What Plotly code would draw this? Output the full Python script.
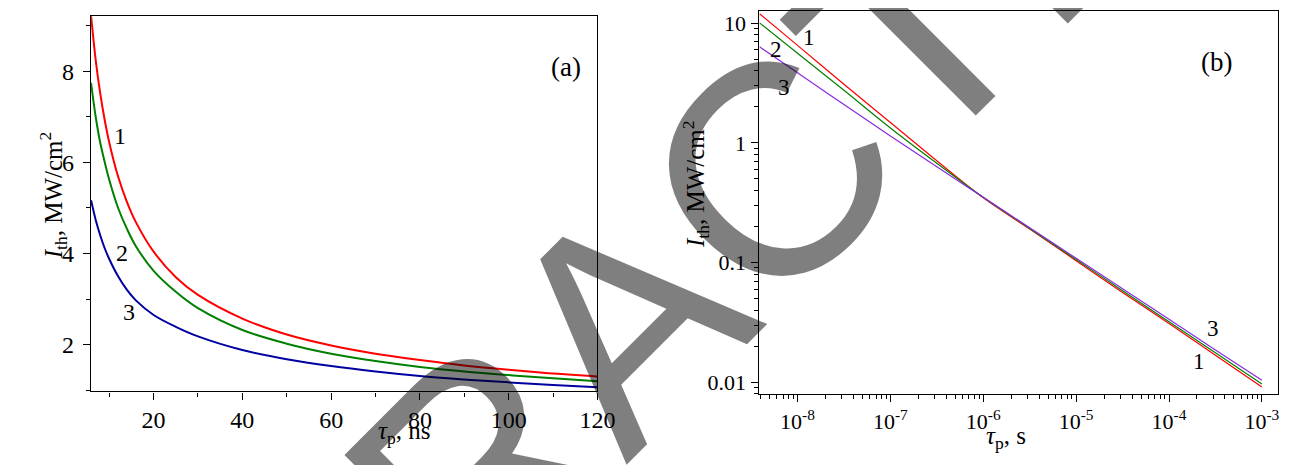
import plotly.graph_objects as go

W, H = 1300, 465

# ---------------- Panel (a) data: tau_p in ns, I_th in MW/cm^2 ----------------
tau_a = [5.9, 7, 8, 9, 10, 12, 14, 16, 20, 25, 30, 40, 50, 60, 70, 80, 90, 100, 110, 120]
I_a_1 = [9.23, 8.21, 7.50, 6.92, 6.44, 5.69, 5.13, 4.69, 4.04, 3.48, 3.09, 2.57, 2.22, 1.98, 1.80, 1.66, 1.54, 1.445, 1.365, 1.30]
I_a_2 = [7.75, 6.97, 6.42, 6.0, 5.62, 5.0, 4.54, 4.16, 3.62, 3.16, 2.8, 2.32, 2.02, 1.80, 1.64, 1.51, 1.41, 1.33, 1.26, 1.195]
I_a_3 = [5.17, 4.72, 4.39, 4.11, 3.88, 3.5, 3.2, 2.97, 2.65, 2.39, 2.18, 1.88, 1.68, 1.53, 1.41, 1.31, 1.235, 1.17, 1.11, 1.06]

# ---------------- Panel (b) data: tau_p in s, I_th in MW/cm^2 ----------------
tau_b = [3.9e-9, 1e-8, 3.16e-8, 1e-7, 3.16e-7, 1e-6, 3.16e-6, 1e-5, 3.16e-5, 1e-4, 3.16e-4, 1e-3]
I_b_1 = [12.0, 6.53, 3.09, 1.48, 0.708, 0.347, 0.1905, 0.1035, 0.0562, 0.0309, 0.0168, 0.00912]
I_b_2 = [10.07, 5.62, 2.754, 1.334, 0.676, 0.351, 0.1928, 0.1059, 0.0582, 0.0320, 0.0176, 0.00966]
I_b_3 = [6.35, 3.85, 2.09, 1.143, 0.631, 0.351, 0.195, 0.1084, 0.0603, 0.0335, 0.0186, 0.01035]

# tick labels
xa_ticks = [20, 40, 60, 80, 100, 120]
ya_ticks = [2, 4, 6, 8]
xb_ticks = [1e-8, 1e-7, 1e-6, 1e-5, 1e-4, 1e-3]
xb_text = ["10<sup>-8</sup>", "10<sup>-7</sup>", "10<sup>-6</sup>", "10<sup>-5</sup>", "10<sup>-4</sup>", "10<sup>-3</sup>"]
yb_ticks = [0.01, 0.1, 1, 10]
yb_text = ["0.01", "0.1", "1", "10"]

SERIF = "Liberation Serif"
SANS = "Liberation Sans"

def pxx(x):
    return x / W

def pyy(y):
    return 1 - y / H

fig = go.Figure()

col_a = ["#ff0000", "#008000", "#0000a0"]
for ys, c in zip([I_a_1, I_a_2, I_a_3], col_a):
    fig.add_trace(go.Scatter(x=tau_a, y=ys, mode="lines", line=dict(color=c, width=2, shape="spline"),
                             xaxis="x", yaxis="y", showlegend=False))

col_b = ["#ff0000", "#008000", "#8a2be2"]
for ys, c in zip([I_b_1, I_b_2, I_b_3], col_b):
    fig.add_trace(go.Scatter(x=tau_b, y=ys, mode="lines", line=dict(color=c, width=1.2, shape="spline"),
                             xaxis="x2", yaxis="y2", showlegend=False))

def axis_common(size):
    return dict(showline=True, linecolor="black", linewidth=1.3, mirror=True, ticks="outside",
                tickcolor="black", tickwidth=1.2, ticklen=7, showgrid=False, zeroline=False,
                tickfont=dict(family=SERIF, size=size, color="black"))

minor_b_vals = [k * 10.0 ** e for e in range(-10, 3) for k in range(2, 10)]

fig.update_layout(
    width=W, height=H,
    margin=dict(l=0, r=0, t=0, b=0),
    paper_bgcolor="white", plot_bgcolor="white",
    font=dict(family=SERIF, color="black"),
    xaxis=dict(domain=[pxx(84.2), pxx(597.7)], range=[5.9, 120], tickvals=xa_ticks,
               minor=dict(dtick=10, tick0=0, ticks="outside", ticklen=4, tickcolor="black"),
               anchor="y", ticklabelstandoff=0, **axis_common(24)),
    yaxis=dict(domain=[pyy(384.3), pyy(8.3)], range=[0.97, 9.21], tickvals=ya_ticks,
               minor=dict(dtick=1, tick0=0, ticks="outside", ticklen=4, tickcolor="black"),
               anchor="x", ticklabelstandoff=4, **axis_common(24)),
    xaxis2=dict(domain=[pxx(762), pxx(1287.5)], type="log", range=[-8.41, -2.83],
                tickvals=xb_ticks, ticktext=xb_text,
                minor=dict(tickvals=minor_b_vals, ticks="outside", ticklen=4, tickcolor="black"),
                anchor="y2", ticklabelstandoff=1, **axis_common(22)),
    yaxis2=dict(domain=[pyy(386.7), pyy(2.7)], type="log", range=[-2.098, 1.105],
                tickvals=yb_ticks, ticktext=yb_text,
                minor=dict(tickvals=minor_b_vals, ticks="outside", ticklen=4, tickcolor="black"),
                anchor="x2", ticklabelstandoff=1, **axis_common(22)),
)

ann = []
lab_font = dict(family=SERIF, size=24, color="black")
lab_font_b = dict(family=SERIF, size=23, color="black")
title_font = dict(family=SERIF, size=25, color="black")
# curve labels panel (a)
for t, (xx, yy) in zip(["1", "2", "3"], [(12.5, 6.58), (12.96, 4.02), (14.4, 2.71)]):
    ann.append(dict(x=xx, y=yy, xref="x", yref="y", text=t, showarrow=False, font=lab_font))
# curve labels panel (b) (log10 coordinates)
for t, (xx, yy) in zip(["1", "2", "3", "3", "1"],
                       [(-7.875, 0.8775), (-8.23, 0.78), (-8.15, 0.461), (-3.53, -1.553), (-3.68, -1.83)]):
    ann.append(dict(x=xx, y=yy, xref="x2", yref="y2", text=t, showarrow=False, font=lab_font_b))
# panel letters
ann.append(dict(x=pxx(566), y=pyy(42), xref="paper", yref="paper", text="(a)", showarrow=False,
                font=dict(family=SERIF, size=27, color="black")))
ann.append(dict(x=pxx(1243), y=pyy(37), xref="paper", yref="paper", text="(b)", showarrow=False,
                font=dict(family=SERIF, size=27, color="black")))
# axis titles
ann.append(dict(x=pxx(25), y=pyy(188), xref="paper", yref="paper", textangle=-90, showarrow=False,
                text="<i>I</i><sub>th</sub>, MW/cm<sup>2</sup>", font=title_font))
ann.append(dict(x=pxx(373), y=pyy(443), xref="paper", yref="paper", showarrow=False,
                text="<i>τ</i><sub>p</sub>, ns", font=title_font))
ann.append(dict(x=pxx(697), y=pyy(176), xref="paper", yref="paper", textangle=-90, showarrow=False,
                text="<i>I</i><sub>th</sub>, MW/cm<sup>2</sup>", font=title_font))
ann.append(dict(x=pxx(1034), y=pyy(448), xref="paper", yref="paper", showarrow=False,
                text="<i>τ</i><sub>p</sub>, s", font=title_font))
# watermark
ann.append(dict(x=pxx(624), y=pyy(314), xref="paper", yref="paper", showarrow=False, textangle=-45,
                text="RETRACTED", xanchor="center", yanchor="middle",
                font=dict(family=SANS, size=300, color="rgba(0,0,0,0.5)")))
fig.update_layout(annotations=ann)

fig.write_html("out.html")
